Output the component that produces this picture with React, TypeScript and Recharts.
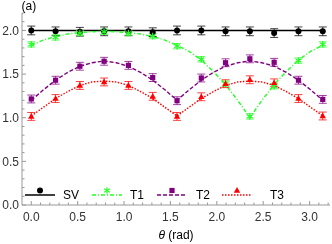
import React from 'react';
import { ComposedChart, Line, Scatter, XAxis, YAxis, ErrorBar } from 'recharts';

// measured angles (rad)
const THETA = [0, 0.262, 0.524, 0.785, 1.047, 1.309, 1.571, 1.833, 2.094, 2.356, 2.618, 2.88, 3.142];
const SV = [2.0, 1.99, 1.985, 1.99, 1.99, 1.98, 2.0, 2.0, 1.99, 1.99, 1.97, 1.99, 1.99];
const T1 = [1.84, 1.92, 1.97, 1.985, 1.97, 1.935, 1.82, 1.67, 1.39, 1.015, 1.36, 1.655, 1.84];
const T2 = [1.215, 1.43, 1.59, 1.647, 1.6, 1.46, 1.195, 1.455, 1.63, 1.675, 1.635, 1.43, 1.21];
const T3 = [1.015, 1.22, 1.37, 1.41, 1.37, 1.245, 1.015, 1.24, 1.39, 1.435, 1.4, 1.22, 1.02];
const SV_ERR = [0.05, 0.05, 0.05, 0.05, 0.05, 0.05, 0.05, 0.05, 0.05, 0.05, 0.05, 0.05, 0.05];
const T1_ERR = [0.03, 0.03, 0.03, 0.03, 0.03, 0.03, 0.03, 0.03, 0.03, 0.03, 0.03, 0.03, 0.03];
const T2_ERR = [0.045, 0.045, 0.045, 0.045, 0.045, 0.045, 0.045, 0.045, 0.045, 0.045, 0.045, 0.045, 0.045];
const T3_ERR = [0.045, 0.045, 0.045, 0.045, 0.045, 0.045, 0.045, 0.045, 0.045, 0.045, 0.045, 0.045, 0.045];

// fitted curves (rad)
const THETA_FIT = [0, 0.131, 0.262, 0.393, 0.524, 0.654, 0.785, 0.916, 1.047, 1.178, 1.309, 1.44, 1.571,
  1.702, 1.833, 1.963, 2.094, 2.225, 2.356, 2.487, 2.618, 2.749, 2.88, 3.011, 3.142];
const SV_FIT = [2, 2, 2, 2, 2, 2, 2, 2, 2, 2, 2, 2, 2, 2, 2, 2, 2, 2, 2, 2, 2, 2, 2, 2, 2];
const T1_FIT = [1.83, 1.89, 1.93, 1.96, 1.975, 1.985, 1.99, 1.985, 1.975, 1.96, 1.93, 1.89, 1.83,
  1.76, 1.66, 1.53, 1.38, 1.2, 1.0, 1.2, 1.38, 1.53, 1.66, 1.76, 1.83];
const T2_FIT = [1.2, 1.32, 1.43, 1.52, 1.59, 1.63, 1.65, 1.63, 1.59, 1.52, 1.43, 1.32, 1.2,
  1.32, 1.43, 1.52, 1.59, 1.63, 1.65, 1.63, 1.59, 1.52, 1.43, 1.32, 1.2];
const T3_FIT = [1.02, 1.12, 1.22, 1.3, 1.37, 1.41, 1.42, 1.41, 1.37, 1.3, 1.22, 1.12, 1.02,
  1.12, 1.22, 1.3, 1.37, 1.41, 1.42, 1.41, 1.37, 1.3, 1.22, 1.12, 1.02];

const X_TICKS = Array.from({ length: 33 }, (_, i) => i / 10);
const Y_TICKS = Array.from({ length: 23 }, (_, i) => i / 10);

const SERIES_NAMES = ['SV', 'T1', 'T2', 'T3'];
const COLORS = ['#000000', '#22ff22', '#800080', '#ff0000'];
const DASHES = [undefined, '4 2 1 2', '4 2', '1.5 1.5'];

const pts = (ys: number[], es: number[]) => THETA.map((x, i) => ({ x, y: ys[i], e: es[i] }));
const fit = (ys: number[]) => THETA_FIT.map((x, i) => ({ x, y: ys[i] }));

const FONT = '"Liberation Sans", Arial, sans-serif';
const FRAME = '#999999';
const LABEL = '#333333';

const isMajor = (v: number) => Math.abs(v * 2 - Math.round(v * 2)) < 1e-6;

const BottomTick = (p: any) => {
  const v = p.payload.value;
  const m = isMajor(v);
  return (
    <g>
      <line x1={p.x} x2={p.x} y1={p.y} y2={p.y - (m ? 4 : 2.5)} stroke={FRAME} strokeWidth={1} />
      {m && (
        <text x={p.x} y={p.y + 16} textAnchor="middle" fontSize={12} fill={LABEL} fontFamily={FONT}>
          {v.toFixed(1)}
        </text>
      )}
    </g>
  );
};
const TopTick = (p: any) => {
  const m = isMajor(p.payload.value);
  return <line x1={p.x} x2={p.x} y1={p.y} y2={p.y + (m ? 4 : 2.5)} stroke={FRAME} strokeWidth={1} />;
};
const LeftTick = (p: any) => {
  const v = p.payload.value;
  const m = isMajor(v);
  return (
    <g>
      <line x1={p.x} x2={p.x + (m ? 4 : 2.5)} y1={p.y} y2={p.y} stroke={FRAME} strokeWidth={1} />
      {m && (
        <text x={p.x - 3} y={p.y + 4.3} textAnchor="end" fontSize={12} fill={LABEL} fontFamily={FONT}>
          {v.toFixed(1)}
        </text>
      )}
    </g>
  );
};
const RightTick = (p: any) => {
  const m = isMajor(p.payload.value);
  return <line x1={p.x} x2={p.x - (m ? 4 : 2.5)} y1={p.y} y2={p.y} stroke={FRAME} strokeWidth={1} />;
};

const Marker = ({ kind, cx, cy, color }: { kind: number; cx: number; cy: number; color: string }) => {
  if (kind === 0) return <circle cx={cx} cy={cy} r={3} fill={color} />;
  if (kind === 1)
    return (
      <g stroke={color} strokeWidth={1.2}>
        <line x1={cx} x2={cx} y1={cy - 3.3} y2={cy + 3.3} />
        <line x1={cx - 2.9} x2={cx + 2.9} y1={cy - 1.65} y2={cy + 1.65} />
        <line x1={cx - 2.9} x2={cx + 2.9} y1={cy + 1.65} y2={cy - 1.65} />
      </g>
    );
  if (kind === 2) return <rect x={cx - 2.6} y={cy - 2.6} width={5.2} height={5.2} fill={color} />;
  return <polygon points={`${cx},${cy - 3.4} ${cx + 3.2},${cy + 2.3} ${cx - 3.2},${cy + 2.3}`} fill={color} />;
};

const shapeFor = (kind: number) => (props: any) => (
  <Marker kind={kind} cx={props.cx} cy={props.cy} color={COLORS[kind]} />
);

const AxisLabel = (props: any) => {
  const vb = props.viewBox || {};
  const cx = (vb.x ?? 22) + (vb.width ?? 308) / 2;
  return (
    <text x={cx} y={239} textAnchor="middle" fontSize={12} fill="#000" fontFamily={FONT}>
      <tspan fontStyle="italic">θ</tspan> (rad)
    </text>
  );
};

const LEGEND_X = [25, 92, 157, 222];
const LEGEND_TEXT_X = [63, 130, 196, 270];

export default function App() {
  const series = [pts(SV, SV_ERR), pts(T1, T1_ERR), pts(T2, T2_ERR), pts(T3, T3_ERR)];
  const fits = [fit(SV_FIT), fit(T1_FIT), fit(T2_FIT), fit(T3_FIT)];
  return (
    <div style={{ position: 'fixed', left: 0, top: 0, width: 332, height: 244, fontFamily: FONT }}>
      <ComposedChart width={332} height={244} margin={{ top: 13, right: 2, bottom: 19, left: 0 }}>
        <XAxis
          xAxisId="b"
          dataKey="x"
          type="number"
          domain={[-0.1, 3.22]}
          allowDataOverflow
          ticks={X_TICKS}
          interval={0}
          tick={<BottomTick />}
          tickSize={0}
          tickMargin={0}
          tickLine={false}
          height={20}
          stroke={FRAME}
          label={<AxisLabel />}
        />
        <XAxis
          xAxisId="t"
          orientation="top"
          dataKey="x"
          type="number"
          domain={[-0.1, 3.22]}
          allowDataOverflow
          ticks={X_TICKS}
          interval={0}
          tick={<TopTick />}
          tickSize={0}
          tickMargin={0}
          tickLine={false}
          height={0}
          stroke={FRAME}
        />
        <YAxis
          yAxisId="l"
          type="number"
          domain={[0, 2.2]}
          allowDataOverflow
          ticks={Y_TICKS}
          interval={0}
          tick={<LeftTick />}
          tickSize={0}
          tickMargin={0}
          tickLine={false}
          width={22}
          stroke={FRAME}
        />
        <YAxis
          yAxisId="r"
          orientation="right"
          type="number"
          domain={[0, 2.2]}
          allowDataOverflow
          ticks={Y_TICKS}
          interval={0}
          tick={<RightTick />}
          tickSize={0}
          tickMargin={0}
          tickLine={false}
          width={0}
          stroke={FRAME}
        />
        {fits.map((d, i) => (
          <Line
            key={'f' + i}
            xAxisId="b"
            yAxisId="l"
            data={d}
            dataKey="y"
            type="linear"
            stroke={COLORS[i]}
            strokeWidth={i === 0 ? 1.5 : 1.4}
            strokeDasharray={DASHES[i]}
            dot={false}
            activeDot={false}
            isAnimationActive={false}
            name={SERIES_NAMES[i] + ' fit'}
          />
        ))}
        {series.map((d, i) => (
          <Scatter
            key={'s' + i}
            xAxisId="b"
            yAxisId="l"
            data={d}
            dataKey="y"
            fill={COLORS[i]}
            shape={shapeFor(i)}
            isAnimationActive={false}
            name={SERIES_NAMES[i]}
          >
            <ErrorBar dataKey="e" direction="y" width={4} stroke={COLORS[i]} strokeOpacity={0.75} strokeWidth={1} isAnimationActive={false} />
          </Scatter>
        ))}
      </ComposedChart>
      <svg width={332} height={244} style={{ position: 'absolute', left: 0, top: 0, pointerEvents: 'none' }}>
        <text x={21.5} y={9.5} fontSize={12} fill="#000" fontFamily={FONT}>(a)</text>
        {SERIES_NAMES.map((n, i) => (
          <g key={n}>
            <line
              x1={LEGEND_X[i]}
              x2={LEGEND_X[i] + 30}
              y1={195}
              y2={195}
              stroke={COLORS[i]}
              strokeWidth={i === 0 ? 1.5 : 1.4}
              strokeDasharray={DASHES[i]}
            />
            <Marker kind={i} cx={LEGEND_X[i] + 15} cy={190.5} color={COLORS[i]} />
            <text x={LEGEND_TEXT_X[i]} y={199} fontSize={12} fill="#000" fontFamily={FONT}>{n}</text>
          </g>
        ))}
      </svg>
    </div>
  );
}
